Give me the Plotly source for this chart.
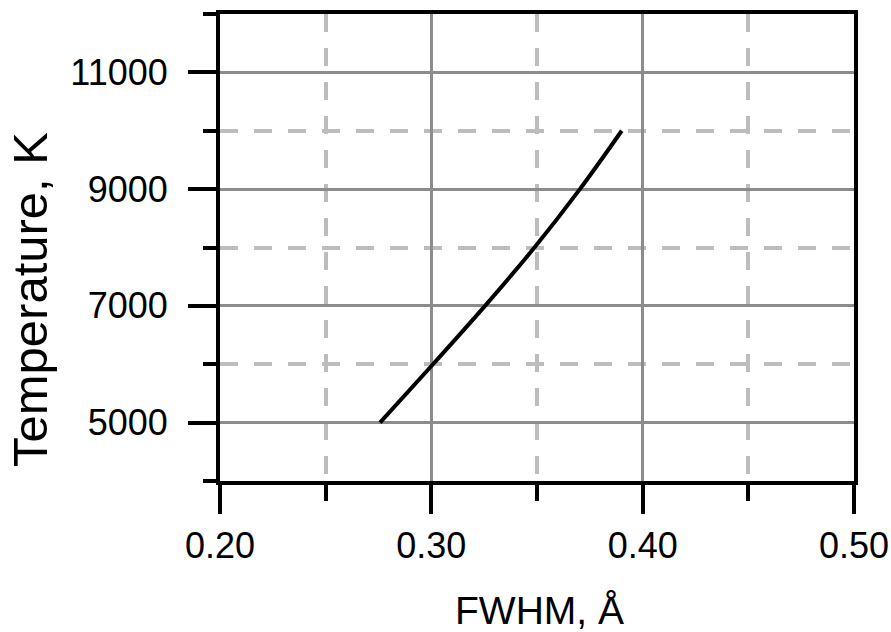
import plotly.graph_objects as go

fwhm = [0.2757, 0.3008, 0.3254, 0.3488, 0.3703, 0.3901]
temperature = [5000, 6000, 7000, 8000, 9000, 10000]

x_title = "FWHM, Å"
y_title = "Temperature, K"

W, H = 891, 632
# target plot area in page pixels: x 220..854, y 14..481
ML, MT = 220, 14
MR = W - 854
MB = H - 481
pw, ph = W - ML - MR, H - MT - MB


def px(page_x):
    return (page_x - ML) / pw


def py(page_y):
    return (H - MB - page_y) / ph


fig = go.Figure()
fig.add_trace(go.Scatter(x=fwhm, y=temperature, mode="lines",
                         line=dict(color="black", width=4, shape="spline"),
                         showlegend=False))

font = "Liberation Sans, Arial, sans-serif"
common = dict(showline=True, linecolor="black", linewidth=4, mirror=True,
              ticks="outside", tickcolor="black", tickwidth=4, automargin=False,
              showgrid=True, gridcolor="#8c8c8c", gridwidth=3,
              zeroline=False, tickfont=dict(family=font, size=36, color="black"))

fig.update_xaxes(range=[0.2, 0.5], tick0=0.2, dtick=0.1, tickformat=".2f",
                 ticklen=29, ticklabelstandoff=1,
                 minor=dict(dtick=0.05, tick0=0.2, ticks="outside", ticklen=16, tickwidth=4,
                            tickcolor="black", showgrid=True, gridcolor="#bdbdbd",
                            gridwidth=4, griddash="18px,16px"),
                 **common)
fig.update_yaxes(range=[4000, 12000], tick0=5000, dtick=2000, ticklen=28,
                 tickformat="d", ticklabelstandoff=13,
                 minor=dict(dtick=1000, tick0=4000, ticks="outside", ticklen=13, tickwidth=4,
                            tickcolor="black", showgrid=True, gridcolor="#bdbdbd",
                            gridwidth=4, griddash="18px,16px"),
                 **common)

fig.add_annotation(text=y_title, xref="paper", yref="paper",
                   x=px(30), y=py(299),
                   xanchor="center", yanchor="middle", textangle=-90, showarrow=False,
                   font=dict(family=font, size=49, color="black"))
fig.add_annotation(text=x_title, xref="paper", yref="paper",
                   x=px(539), y=py(634),
                   xanchor="center", yanchor="bottom", showarrow=False,
                   font=dict(family=font, size=39, color="black"))

fig.update_layout(width=W, height=H, margin=dict(l=ML, r=MR, t=MT, b=MB),
                  plot_bgcolor="white", paper_bgcolor="white")

fig.write_html("out.html", config={"displayModeBar": False},
               post_script="document.body.style.margin='0';document.body.style.overflow='hidden';")
